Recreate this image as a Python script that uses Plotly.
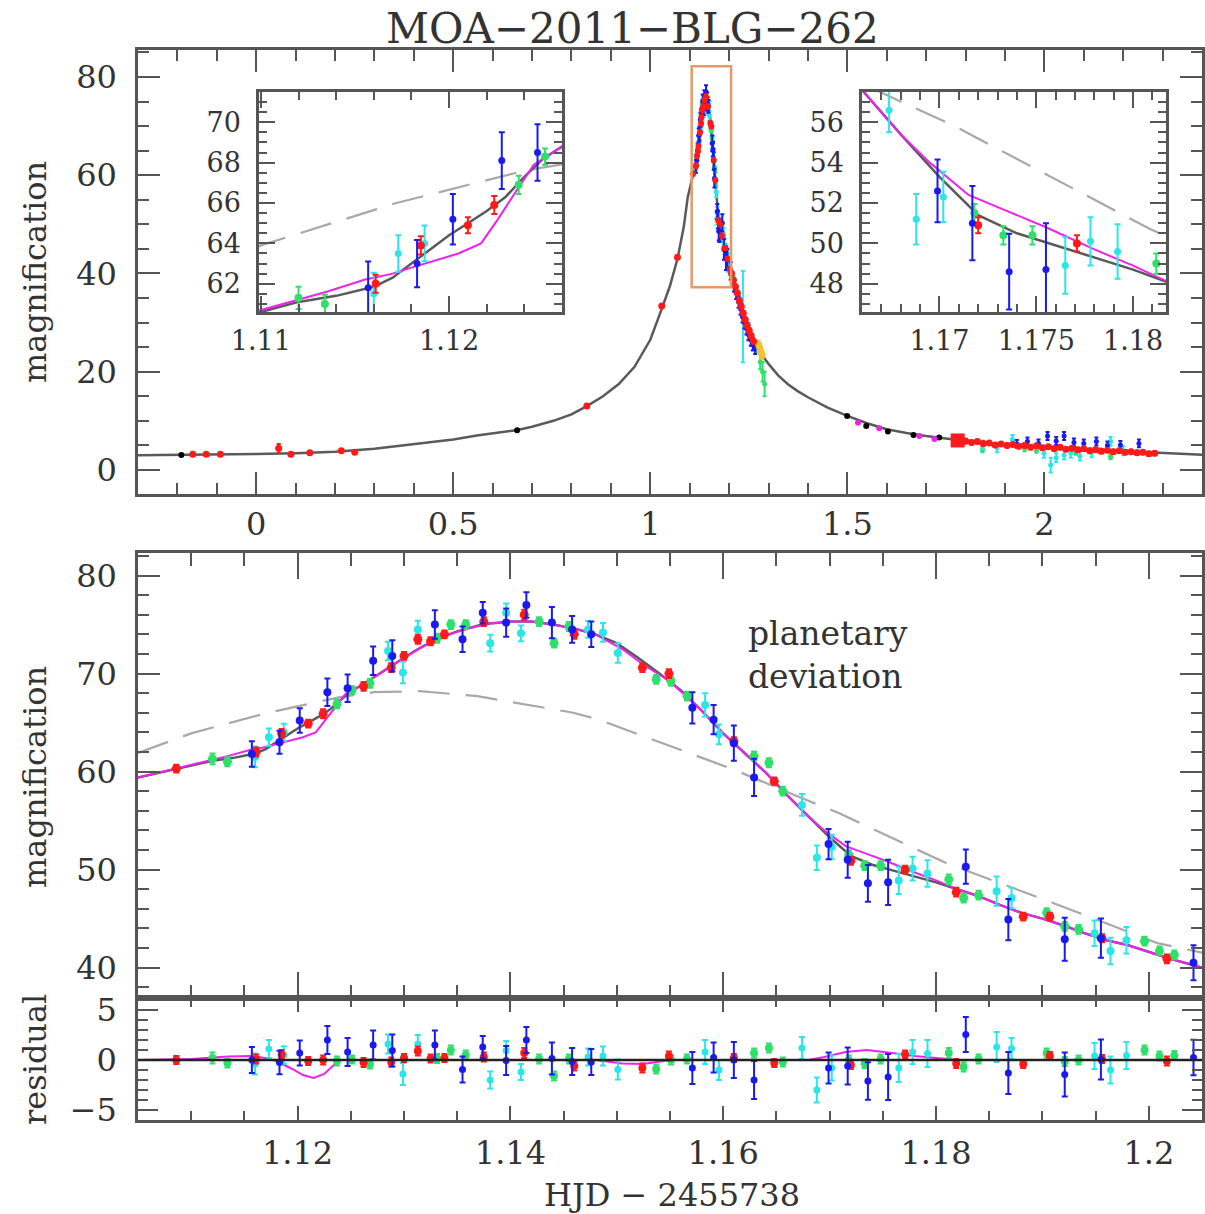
import plotly.graph_objects as go

# ---------------- data ----------------
# planetary (gray) model in the zoomed window
GRAY_X = [1.105, 1.108, 1.110, 1.112, 1.114, 1.116, 1.117, 1.118, 1.119, 1.120, 1.121, 1.122, 1.123,
          1.124, 1.125, 1.126, 1.127, 1.128, 1.129, 1.130, 1.131, 1.132, 1.133, 1.134, 1.135, 1.136,
          1.137, 1.138, 1.140, 1.142, 1.144, 1.146, 1.148, 1.150, 1.152, 1.154, 1.156, 1.158, 1.160,
          1.162, 1.164, 1.166, 1.168, 1.170, 1.172, 1.174, 1.176, 1.178, 1.180, 1.182, 1.184, 1.186,
          1.188, 1.190, 1.192, 1.194, 1.196, 1.198, 1.200, 1.202, 1.205]
GRAY_Y = [59.4, 60.1, 60.6, 61.1, 61.4, 61.85, 62.3, 63.0, 63.7, 64.4, 65.0, 65.6, 66.3,
          67.3, 68.2, 68.8, 69.5, 70.2, 70.9, 71.6, 72.3, 72.9, 73.4, 73.9, 74.3, 74.6,
          74.9, 75.1, 75.3, 75.3, 75.0, 74.6, 74.0, 73.1, 71.6, 70.0, 68.3, 66.2, 63.9,
          61.9, 59.9, 57.6, 55.4, 53.3, 51.4, 50.5, 49.9, 49.3, 48.7, 48.0, 47.3, 46.4,
          45.6, 45.0, 44.3, 43.5, 42.8, 42.3, 41.6, 40.9, 40.0]

# alternative (magenta) model
MAG_X = [1.105, 1.110, 1.1135, 1.1155, 1.117, 1.118, 1.1195, 1.1205, 1.1217, 1.1226, 1.1235, 1.1245,
         1.126, 1.128, 1.130, 1.132, 1.134, 1.136, 1.138, 1.140, 1.142, 1.144, 1.146, 1.148, 1.1505,
         1.1525, 1.155, 1.158, 1.160, 1.162, 1.164, 1.166, 1.168, 1.1695, 1.1715, 1.1735, 1.1755,
         1.178, 1.180, 1.182, 1.184, 1.186, 1.188, 1.190, 1.192, 1.194, 1.196, 1.198, 1.200, 1.202, 1.205]
MAG_Y = [59.4, 60.7, 61.6, 62.2, 62.5, 62.8, 63.2, 63.5, 64.0, 65.2, 66.5, 67.9,
         68.8, 70.2, 71.6, 72.9, 73.9, 74.6, 75.1, 75.3, 75.3, 75.0, 74.6, 74.0, 72.5,
         70.9, 69.2, 66.2, 63.9, 61.9, 59.9, 57.6, 55.4, 54.0, 52.4, 51.6, 50.8,
         49.7, 48.9, 48.0, 47.3, 46.4, 45.6, 45.0, 44.3, 43.5, 42.8, 42.3, 41.6, 40.9, 40.0]

# single-lens (dashed) model
PSPL_X = [1.105, 1.110, 1.1172, 1.124, 1.1272, 1.1315, 1.1369, 1.1459, 1.1483, 1.161, 1.1676,
          1.1708, 1.1809, 1.191, 1.2008, 1.2051]
PSPL_Y = [61.9, 63.9, 66.0, 67.6, 68.1, 68.2, 67.7, 66.0, 65.3, 60.2, 57.2,
          55.8, 50.7, 46.6, 42.5, 41.5]

# magenta model residual
MAGRES_X = [1.105, 1.110, 1.1135, 1.1155, 1.117, 1.118, 1.1195, 1.1205, 1.1215, 1.1225, 1.1232,
            1.124, 1.148, 1.1505, 1.1525, 1.155, 1.168, 1.1695, 1.1715, 1.1735, 1.1755, 1.178,
            1.180, 1.182, 1.205]
MAGRES_Y = [0.0, 0.1, 0.35, 0.4, 0.2, -0.1, -0.9, -1.5, -1.8, -1.4, -0.7,
            0.0, 0.0, -0.35, -0.4, 0.0, 0.0, 0.3, 0.8, 1.0, 0.75, 0.4,
            0.2, 0.0, 0.0]

# data in the zoomed window: x, magnification, error, residual
RED_X = [1.1086, 1.1161, 1.1185, 1.1210, 1.1224, 1.1262, 1.1288, 1.1300, 1.1313, 1.1325, 1.1338,
         1.1375, 1.1413, 1.1460, 1.1524, 1.1549, 1.1610, 1.1648, 1.1720, 1.1771, 1.1819, 1.1882,
         1.1907, 1.1956, 1.2017]
RED_Y = [60.3, 62.0, 63.9, 64.9, 65.9, 68.7, 70.6, 71.8, 73.5, 73.3, 74.0,
         75.3, 76.0, 74.0, 70.6, 70.0, 63.1, 59.0, 50.9, 50.0, 47.7, 45.2,
         45.2, 43.0, 40.9]
RED_E = [0.4, 0.45, 0.45, 0.4, 0.45, 0.45, 0.45, 0.4, 0.45, 0.4, 0.4,
         0.45, 0.5, 0.45, 0.45, 0.45, 0.4, 0.4, 0.4, 0.4, 0.45, 0.4,
         0.4, 0.4, 0.45]
RED_R = [0.0, 0.1, 0.55, -0.1, 0.0, -0.25, -0.2, 0.2, 0.9, 0.15, 0.2,
         0.3, 0.7, -0.6, -0.8, 0.4, 0.2, -0.3, -0.5, 0.55, -0.35, -0.4,
         0.4, 0.1, -0.1]

GREEN_X = [1.1120, 1.1134, 1.1237, 1.1251, 1.1268, 1.1331, 1.1344, 1.1358, 1.1427, 1.1441, 1.1455,
           1.1537, 1.1551, 1.1566, 1.1629, 1.1643, 1.1656, 1.1718, 1.1733, 1.1748, 1.1812, 1.1826,
           1.1840, 1.1904, 1.1921, 1.1934, 1.1996, 1.2010, 1.2024]
GREEN_Y = [61.3, 61.0, 66.9, 68.3, 69.0, 73.6, 75.0, 75.0, 75.3, 73.1, 74.8,
           69.4, 69.2, 67.7, 61.6, 60.9, 58.0, 51.5, 50.4, 50.4, 49.0, 47.1,
           47.4, 45.6, 44.2, 43.9, 42.7, 41.7, 41.3]
GREEN_E = [0.55, 0.45, 0.45, 0.4, 0.45, 0.45, 0.45, 0.45, 0.45, 0.45, 0.45,
           0.45, 0.45, 0.45, 0.45, 0.45, 0.45, 0.45, 0.45, 0.45, 0.5, 0.45,
           0.45, 0.45, 0.45, 0.45, 0.45, 0.45, 0.45]
GREEN_R = [0.2, -0.3, -0.1, 0.05, -0.4, 0.15, 1.0, 0.5, 0.1, -1.6, 0.1,
           -0.9, 0.0, 0.1, 0.7, 1.2, -0.2, 0.0, -0.35, 0.1, 0.7, -0.7,
           0.1, 0.7, -0.15, 0.0, 1.0, 0.4, 0.45]

CYAN_X = [1.1160, 1.1173, 1.1187, 1.1285, 1.1299, 1.1313, 1.1381, 1.1396, 1.1410, 1.1473, 1.1487,
          1.1501, 1.1583, 1.1596, 1.1674, 1.1688, 1.1702, 1.1765, 1.1778, 1.1792, 1.1857, 1.1871,
          1.1949, 1.1964, 1.1979]
CYAN_Y = [61.5, 63.5, 64.0, 72.3, 70.1, 74.5, 73.1, 76.2, 74.1, 74.5, 74.2,
          72.1, 66.8, 63.8, 56.6, 51.2, 52.3, 48.9, 50.1, 49.6, 47.8, 47.1,
          43.5, 41.7, 42.8]
CYAN_E = [1.05, 0.9, 0.88, 0.95, 1.1, 0.9, 0.85, 0.95, 0.8, 0.85, 0.95,
          1.0, 1.2, 1.0, 1.1, 1.25, 1.25, 1.4, 1.2, 1.35, 1.5, 1.05,
          1.3, 1.35, 1.35]
CYAN_R = [-0.4, 1.1, 0.5, 1.6, -1.4, 1.6, -2.0, 0.95, -1.2, 0.3, 0.4,
          -0.95, 0.8, -1.0, 1.2, -3.0, -0.8, -0.8, 0.8, 0.65, 1.3, 1.15,
          0.4, -1.0, 0.45]

BLUE_X = [1.1157, 1.1183, 1.1202, 1.1228, 1.1247, 1.1271, 1.1289, 1.1329, 1.1355, 1.1374, 1.1396,
          1.1415, 1.1439, 1.1458, 1.1476, 1.1571, 1.1591, 1.1610, 1.1629, 1.1699, 1.1717, 1.1736,
          1.1755, 1.1828, 1.1868, 1.1921, 1.1955, 1.2042]
BLUE_Y = [61.8, 63.0, 65.2, 68.1, 68.5, 71.3, 71.8, 75.0, 73.5, 76.2, 75.2,
          77.0, 75.2, 74.5, 74.0, 66.5, 65.3, 62.9, 59.4, 52.6, 51.0, 48.6,
          48.7, 50.3, 44.9, 42.9, 43.0, 40.5]
BLUE_E = [1.3, 1.17, 1.25, 1.4, 1.4, 1.45, 1.6, 1.45, 1.3, 1.1, 1.45,
          1.3, 1.6, 1.36, 1.3, 1.6, 1.5, 1.8, 1.9, 1.55, 1.84, 1.88,
          2.3, 1.75, 2.1, 2.2, 2.0, 1.78]
BLUE_R = [0.0, -0.25, 0.7, 2.0, 0.8, 1.5, 0.95, 1.5, -0.95, 1.3, -0.05,
          2.0, 0.15, -0.15, -0.2, -0.8, 0.25, 0.0, -2.0, -0.8, -0.6, -2.1,
          -1.7, 2.55, -1.3, -1.45, 0.05, 0.25]

# overview panel: model outside the zoomed window
TOP_LEFT_X = [-0.3, -0.2, -0.1, 0.0, 0.1, 0.2, 0.3, 0.4, 0.5, 0.56, 0.62, 0.66, 0.7, 0.754, 0.8,
              0.839, 0.88, 0.92, 0.96, 1.0, 1.03, 1.05, 1.069, 1.085, 1.095]
TOP_LEFT_Y = [3.0, 3.05, 3.15, 3.25, 3.4, 3.7, 4.3, 5.3, 6.2, 7.0, 7.6, 8.1, 8.8, 10.0, 11.3,
              13.0, 15.0, 17.5, 21.0, 26.5, 33.0, 37.5, 43.0, 49.5, 55.5]
TOP_RIGHT_X = [1.215, 1.225, 1.235, 1.245, 1.255, 1.265, 1.275, 1.285, 1.30, 1.325, 1.35, 1.375,
               1.40, 1.45, 1.50, 1.55, 1.60, 1.65, 1.70, 1.80, 1.90, 2.00, 2.10, 2.20, 2.30, 2.40]
TOP_RIGHT_Y = [37.4, 34.8, 32.3, 30.1, 28.1, 26.3, 24.7, 23.2, 21.6, 19.2, 17.4, 16.0,
               14.8, 12.7, 11.0, 9.5, 8.3, 7.5, 6.9, 5.9, 5.2, 4.6, 4.2, 3.8, 3.4, 3.1]

# overview panel: extra data
TOP_BLACK_X = [-0.19, 0.662, 1.4995, 1.548, 1.603, 1.668, 1.733, 1.801]
TOP_BLACK_Y = [3.05, 8.1, 11.0, 8.95, 7.8, 7.1, 6.6, 5.8]
TOP_MAGENTA_X = [1.527, 1.581, 1.683, 1.721]
TOP_MAGENTA_Y = [9.6, 8.5, 6.9, 6.3]
TOP_RED_X = [-0.161, -0.127, -0.091, 0.057, 0.088, 0.136, 0.216, 0.25, 0.839, 1.029, 1.069,
             1.206, 1.211, 1.216, 1.221, 1.226, 1.231, 1.236, 1.241, 1.246, 1.251, 1.256, 1.262,
             1.80, 1.815, 1.83, 1.845, 1.86, 1.875, 1.89, 1.905, 1.92, 1.935, 1.95, 1.965, 1.98,
             1.995, 2.01, 2.025, 2.04, 2.055, 2.07, 2.085, 2.10, 2.115, 2.13, 2.145, 2.16, 2.175,
             2.19, 2.205, 2.22, 2.235, 2.25, 2.265, 2.28]
TOP_RED_Y = [3.2, 3.2, 3.2, 4.4, 3.2, 3.5, 3.9, 3.6, 13.0, 33.4, 43.3,
             40.0, 38.6, 37.3, 36.0, 34.5, 33.3, 31.9, 30.6, 29.4, 28.4, 27.3, 26.2,
             5.9, 5.6, 5.8, 5.4, 5.5, 5.1, 5.3, 5.0, 5.2, 4.8, 5.0, 4.6, 4.9,
             4.5, 4.7, 4.3, 4.6, 4.2, 4.4, 4.1, 4.3, 3.9, 4.1, 3.8, 4.0, 3.7,
             3.9, 3.6, 3.7, 3.5, 3.6, 3.3, 3.4]
TOP_RED_E = [0.3, 0.3, 0.3, 0.9, 0.3, 0.3, 0.3, 0.3, 0.3, 0.3, 0.3,
             0.5, 0.5, 0.5, 0.5, 0.5, 0.5, 0.5, 0.5, 0.5, 0.5, 0.5, 0.5,
             0.4, 0.4, 0.4, 0.4, 0.4, 0.4, 0.4, 0.4, 0.4, 0.4, 0.4, 0.4, 0.4,
             0.4, 0.4, 0.4, 0.4, 0.4, 0.4, 0.4, 0.4, 0.4, 0.4, 0.4, 0.4, 0.4,
             0.4, 0.4, 0.4, 0.4, 0.4, 0.4, 0.4]
TOP_BIGRED_X = [1.78]
TOP_BIGRED_Y = [6.0]
TOP_BLUE_X = [1.208, 1.213, 1.218, 1.224, 1.229, 1.234, 1.239, 1.244, 1.249, 1.255, 1.26, 1.266,
              1.93, 1.957, 1.985, 2.008, 2.03, 2.05, 2.075, 2.10, 2.132, 2.16, 2.193, 2.24]
TOP_BLUE_Y = [39.0, 37.5, 36.0, 34.2, 32.8, 31.2, 30.0, 28.8, 27.6, 26.5, 25.5, 24.8,
              5.3, 5.8, 5.4, 6.9, 5.9, 6.9, 5.6, 5.4, 5.8, 5.0, 5.1, 5.4]
TOP_BLUE_E = [1.2, 1.2, 1.2, 1.2, 1.2, 1.2, 1.2, 1.2, 1.2, 1.2, 1.2, 1.2,
              0.8, 0.8, 0.8, 0.8, 0.8, 0.8, 0.8, 0.8, 0.8, 0.8, 0.8, 0.8]
TOP_CYAN_X = [1.212, 1.235, 1.25, 1.843, 1.88, 1.919, 1.999, 2.016, 2.03, 2.05, 2.067, 2.09,
              2.12, 2.168, 2.2]
TOP_CYAN_Y = [38.0, 31.2, 28.5, 5.1, 4.5, 6.2, 3.4, 1.0, 2.5, 3.0, 3.4, 2.8, 3.5, 5.8, 3.9]
TOP_CYAN_E = [1.5, 9.3, 1.5, 0.9, 0.9, 0.9, 0.9, 1.5, 0.9, 0.9, 0.9, 0.9, 0.9, 0.9, 0.9]
TOP_GREEN_X = [1.222, 1.271, 1.279, 1.285, 1.29, 1.843, 1.95, 1.98, 2.08, 2.14, 2.168]
TOP_GREEN_Y = [35.8, 25.0, 22.0, 20.0, 17.5, 4.1, 4.3, 4.0, 3.6, 3.9, 2.7]
TOP_GREEN_E = [0.6, 1.0, 1.5, 2.0, 2.5, 0.5, 0.5, 0.5, 0.5, 0.5, 0.5]
TOP_YELLOW_X = [1.275, 1.278, 1.281, 1.284]
TOP_YELLOW_Y = [25.5, 24.9, 24.1, 23.4]
TOP_YELLOW_E = [0.8, 0.8, 0.8, 0.8]

# zoom box drawn on the overview
BOX_X = [1.105, 1.205]
BOX_Y = [37.2, 82.2]

# ---------------- styling ----------------
W, H = 1205, 1214
FONT = "DejaVu Serif"
TXT = "#333333"
FRAME = "#555555"
C_RED = "#ff1a1a"
C_GREEN = "#2ee06a"
C_CYAN = "#2be6e6"
C_BLUE = "#1a1aee"
C_MAG = "#ee22ee"
C_YEL = "#f2c230"
C_GRAY = "#5a5a5a"
C_DASH = "#a8a8a8"


def px(x):
    return x / W


def py(y):
    return 1 - y / H


def axis(domain, rng, dtick, mdtick, tlen, mlen, labels, size, anchor, standoff):
    return dict(domain=domain, range=rng, dtick=dtick, tick0=0, ticks="inside",
                ticklen=tlen, tickwidth=2, tickcolor=FRAME, showline=True,
                linecolor=FRAME, linewidth=2.5, mirror="allticks", showgrid=False,
                zeroline=False, showticklabels=labels, automargin=False,
                tickfont=dict(family=FONT, size=size, color=TXT), anchor=anchor,
                ticklabelstandoff=standoff,
                minor=dict(dtick=mdtick, ticks="inside", ticklen=mlen, tickwidth=1.5,
                           tickcolor=FRAME, showgrid=False))


def pts(x, y, e, color, xa, ya, size, symbol="circle", ew=2, cap=3):
    return go.Scatter(x=x, y=y, mode="markers",
                      marker=dict(color=color, size=size, symbol=symbol, line=dict(width=0)),
                      error_y=dict(type="data", array=e, color=color, thickness=ew, width=cap),
                      xaxis=xa, yaxis=ya, showlegend=False, hoverinfo="skip")


def line(x, y, color, xa, ya, width=2.5, dash="solid"):
    return go.Scatter(x=x, y=y, mode="lines", line=dict(color=color, width=width, dash=dash),
                      xaxis=xa, yaxis=ya, showlegend=False, hoverinfo="skip")


fig = go.Figure()

# ---- overview panel (x, y) ----
top_x = TOP_LEFT_X + GRAY_X + TOP_RIGHT_X
top_y = TOP_LEFT_Y + GRAY_Y + TOP_RIGHT_Y
fig.add_trace(line(top_x, top_y, C_GRAY, "x", "y", 2.5))
fig.add_trace(pts(TOP_BLACK_X, TOP_BLACK_Y, None, "#000000", "x", "y", 6))
fig.add_trace(pts(TOP_MAGENTA_X, TOP_MAGENTA_Y, None, C_MAG, "x", "y", 6))
fig.add_trace(pts(GREEN_X, GREEN_Y, GREEN_E, C_GREEN, "x", "y", 5, cap=2))
fig.add_trace(pts(TOP_GREEN_X, TOP_GREEN_Y, TOP_GREEN_E, C_GREEN, "x", "y", 5, cap=2))
fig.add_trace(pts(CYAN_X, CYAN_Y, CYAN_E, C_CYAN, "x", "y", 5, cap=2))
fig.add_trace(pts(TOP_CYAN_X, TOP_CYAN_Y, TOP_CYAN_E, C_CYAN, "x", "y", 5, cap=2))
fig.add_trace(pts(BLUE_X, BLUE_Y, BLUE_E, C_BLUE, "x", "y", 5, cap=2))
fig.add_trace(pts(TOP_BLUE_X, TOP_BLUE_Y, TOP_BLUE_E, C_BLUE, "x", "y", 5, cap=2))
fig.add_trace(pts(TOP_YELLOW_X, TOP_YELLOW_Y, TOP_YELLOW_E, C_YEL, "x", "y", 7, cap=2))
fig.add_trace(pts(RED_X, RED_Y, RED_E, C_RED, "x", "y", 6, cap=2))
fig.add_trace(pts(TOP_RED_X, TOP_RED_Y, TOP_RED_E, C_RED, "x", "y", 7, cap=2))
fig.add_trace(pts(TOP_BIGRED_X, TOP_BIGRED_Y, None, C_RED, "x", "y", 14, symbol="square"))


def zoom_traces(xa, ya, msize, cap):
    fig.add_trace(line(PSPL_X, PSPL_Y, C_DASH, xa, ya, 2.2, "32px,16px"))
    fig.add_trace(line(GRAY_X, GRAY_Y, C_GRAY, xa, ya, 2.5))
    fig.add_trace(line(MAG_X, MAG_Y, C_MAG, xa, ya, 2))
    fig.add_trace(pts(GREEN_X, GREEN_Y, GREEN_E, C_GREEN, xa, ya, msize, cap=cap))
    fig.add_trace(pts(CYAN_X, CYAN_Y, CYAN_E, C_CYAN, xa, ya, msize - 1, cap=cap))
    fig.add_trace(pts(RED_X, RED_Y, RED_E, C_RED, xa, ya, msize, cap=cap))
    fig.add_trace(pts(BLUE_X, BLUE_Y, BLUE_E, C_BLUE, xa, ya, msize - 1, cap=cap))


# ---- zoomed panel (x2, y2) ----
zoom_traces("x2", "y2", 9, 3)
# ---- insets (x4,y4) and (x5,y5) ----
zoom_traces("x4", "y4", 8, 3)
zoom_traces("x5", "y5", 8, 3)

# ---- residual panel (x3, y3) ----
fig.add_trace(line(MAGRES_X, MAGRES_Y, C_MAG, "x3", "y3", 2))
fig.add_trace(pts(GREEN_X, GREEN_R, GREEN_E, C_GREEN, "x3", "y3", 8, cap=3))
fig.add_trace(pts(CYAN_X, CYAN_R, CYAN_E, C_CYAN, "x3", "y3", 7, cap=3))
fig.add_trace(pts(RED_X, RED_R, RED_E, C_RED, "x3", "y3", 8, cap=3))
fig.add_trace(pts(BLUE_X, BLUE_R, BLUE_E, C_BLUE, "x3", "y3", 7, cap=3))

XD = [px(138), px(1202)]
fig.update_layout(
    width=W, height=H, margin=dict(l=0, r=0, t=0, b=0),
    paper_bgcolor="white", plot_bgcolor="white", showlegend=False,
    xaxis=axis(XD, [-0.3, 2.4], 0.5, 0.1, 22, 11, True, 32, "y", 0),
    yaxis=axis([py(494), py(50)], [-4.9, 85.5], 20, 5, 22, 11, True, 32, "x", 12),
    xaxis2=axis(XD, [1.105, 1.205], 0.02, 0.005, 26, 13, False, 32, "y2", 0),
    yaxis2=axis([py(998), py(553)], [36.9, 82.3], 10, 2, 22, 11, True, 32, "x2", 12),
    xaxis3=axis(XD, [1.105, 1.205], 0.02, 0.005, 14, 9, True, 32, "y3", 3),
    yaxis3=axis([py(1120), py(998)], [-6.0, 6.2], 5, 1, 20, 10, True, 32, "x3", 12),
    xaxis4=axis([px(259), px(562)], [1.1099, 1.126], 0.01, 0.002, 16, 8, True, 27, "y4", 3),
    yaxis4=axis([py(312), py(92)], [60.6, 71.5], 2, 0.5, 16, 8, True, 27, "x4", 10),
    xaxis5=axis([px(862), px(1166)], [1.166, 1.1817], 0.005, 0.001, 16, 8, True, 27, "y5", 3),
    yaxis5=axis([py(312), py(92)], [46.6, 57.5], 2, 0.5, 16, 8, True, 27, "x5", 10),
)

fig.add_shape(type="rect", xref="x", yref="y", x0=BOX_X[0], x1=BOX_X[1], y0=BOX_Y[0], y1=BOX_Y[1],
              line=dict(color="#e39a68", width=2.5), layer="above")
fig.add_shape(type="line", xref="x3 domain", yref="y3", x0=0, x1=1, y0=0, y1=0,
              line=dict(color="#222222", width=2.5), layer="above")

ann = dict(showarrow=False, font=dict(family=FONT, color=TXT))
fig.add_annotation(x=px(632), y=py(28), xref="paper", yref="paper", text="MOA−2011−BLG−262",
                   xanchor="center", yanchor="middle",
                   **{**ann, "font": dict(family=FONT, color=TXT, size=42)})
for yc, txt in [(272, "magnification"), (777, "magnification"), (1060, "residual")]:
    fig.add_annotation(x=px(35), y=py(yc), xref="paper", yref="paper", text=txt, textangle=-90,
                       xanchor="center", yanchor="middle",
                       **{**ann, "font": dict(family=FONT, color=TXT, size=32)})
fig.add_annotation(x=px(672), y=py(1195), xref="paper", yref="paper", text="HJD − 2455738",
                   xanchor="center", yanchor="middle",
                   **{**ann, "font": dict(family=FONT, color=TXT, size=32)})
fig.add_annotation(x=px(746), y=py(655), xref="paper", yref="paper",
                   text="planetary<br>deviation", align="left", xanchor="left", yanchor="middle",
                   **{**ann, "font": dict(family=FONT, color=TXT, size=33)})

fig.write_html("out.html")
